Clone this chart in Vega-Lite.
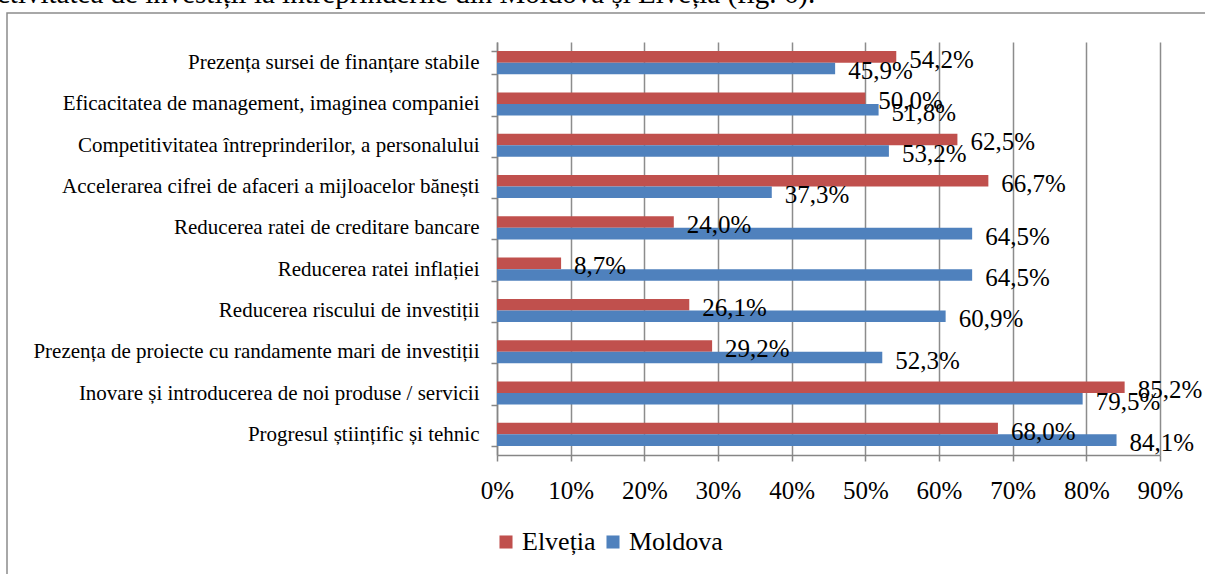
{
  "$schema": "https://vega.github.io/schema/vega-lite/v6.json",
  "width": 1200,
  "height": 570,
  "autosize": "none",
  "padding": {"left": 7, "top": 13, "right": 0, "bottom": 0},
  "background": "white",
  "title": {"text": "ctivitatea de investiții la întreprinderile din Moldova și Elveția (fig. 6).", "anchor": "start", "frame": "group", "offset": 0, "dy": 30, "baseline": "alphabetic", "fontSize": 29, "font": "Liberation Serif", "fontWeight": "normal", "color": "black", "dx": -10},
  "config": {
    "view": {"stroke": "#8c8c8c", "strokeWidth": 1.5},
    "locale": {"number": {"decimal": ",", "thousands": ".", "grouping": [3], "currency": ["", " €"]}}
  },
  "data": {"values": [
    {"cat": "Prezența sursei de finanțare stabile", "country": "Elveția", "v": 0.542},
    {"cat": "Prezența sursei de finanțare stabile", "country": "Moldova", "v": 0.459},
    {"cat": "Eficacitatea de management, imaginea companiei", "country": "Elveția", "v": 0.500},
    {"cat": "Eficacitatea de management, imaginea companiei", "country": "Moldova", "v": 0.518},
    {"cat": "Competitivitatea întreprinderilor, a personalului", "country": "Elveția", "v": 0.625},
    {"cat": "Competitivitatea întreprinderilor, a personalului", "country": "Moldova", "v": 0.532},
    {"cat": "Accelerarea cifrei de afaceri a mijloacelor bănești", "country": "Elveția", "v": 0.667},
    {"cat": "Accelerarea cifrei de afaceri a mijloacelor bănești", "country": "Moldova", "v": 0.373},
    {"cat": "Reducerea ratei de creditare bancare", "country": "Elveția", "v": 0.240},
    {"cat": "Reducerea ratei de creditare bancare", "country": "Moldova", "v": 0.645},
    {"cat": "Reducerea ratei inflației", "country": "Elveția", "v": 0.087},
    {"cat": "Reducerea ratei inflației", "country": "Moldova", "v": 0.645},
    {"cat": "Reducerea riscului de investiții", "country": "Elveția", "v": 0.261},
    {"cat": "Reducerea riscului de investiții", "country": "Moldova", "v": 0.609},
    {"cat": "Prezența de proiecte cu randamente mari de investiții", "country": "Elveția", "v": 0.292},
    {"cat": "Prezența de proiecte cu randamente mari de investiții", "country": "Moldova", "v": 0.523},
    {"cat": "Inovare și introducerea de noi produse / servicii", "country": "Elveția", "v": 0.852},
    {"cat": "Inovare și introducerea de noi produse / servicii", "country": "Moldova", "v": 0.795},
    {"cat": "Progresul științific și tehnic", "country": "Elveția", "v": 0.680},
    {"cat": "Progresul științific și tehnic", "country": "Moldova", "v": 0.841}
  ]},
  "encoding": {
    "y": {
      "field": "cat", "type": "nominal", "sort": null, "title": null,
      "scale": {"range": [29, 442], "paddingInner": 0.44, "paddingOuter": 0.22},
      "axis": {"offset": -490, "tickBand": "extent", "domainColor": "#868686", "domainWidth": 1.5, "tickColor": "#868686", "tickWidth": 1.5, "tickSize": 6, "labelFont": "Liberation Serif", "labelFontSize": 21, "labelColor": "black", "labelLimit": 700, "labelPadding": 12, "grid": false}
    },
    "yOffset": {"field": "country", "type": "nominal", "sort": ["Elveția", "Moldova"]}
  },
  "resolve": {"scale": {"x": "independent"}, "axis": {"x": "independent"}},
  "layer": [
    {
      "mark": {"type": "bar"},
      "encoding": {
        "x": {
          "field": "v", "type": "quantitative", "title": null,
          "scale": {"domain": [0, 0.9], "range": [490, 1153], "nice": false},
          "axis": {"orient": "top", "values": [0, 0.1, 0.2, 0.3, 0.4, 0.5, 0.6, 0.7, 0.8, 0.9], "grid": true, "gridColor": "#8c8c8c", "gridWidth": 1.5, "domain": false, "ticks": false, "labels": false, "zindex": 0}
        },
        "color": {"field": "country", "type": "nominal", "sort": ["Elveția", "Moldova"],
          "scale": {"domain": ["Elveția", "Moldova"], "range": ["#C0504D", "#4F81BD"]},
          "legend": {"title": null, "orient": "none", "legendX": 486, "legendY": 516, "direction": "horizontal", "symbolType": "square", "symbolSize": 170, "symbolStrokeWidth": 0, "labelFont": "Liberation Serif", "labelFontSize": 26, "labelColor": "black", "labelOffset": 3, "columnPadding": 4}
        }
      }
    },
    {
      "mark": {"type": "text", "align": "left", "baseline": "middle", "dx": 13, "dy": 3, "font": "Liberation Serif", "fontSize": 25, "color": "black"},
      "encoding": {
        "x": {
          "field": "v", "type": "quantitative", "title": null,
          "scale": {"domain": [0, 0.9], "range": [490, 1153], "nice": false},
          "axis": {"orient": "bottom", "offset": -128, "values": [0, 0.1, 0.2, 0.3, 0.4, 0.5, 0.6, 0.7, 0.8, 0.9], "format": ".0%", "grid": false, "domainColor": "#868686", "domainWidth": 1.5, "tickColor": "#868686", "tickWidth": 1.5, "tickSize": 6, "labelFont": "Liberation Serif", "labelFontSize": 25, "labelColor": "black", "labelPadding": 17, "labelFlush": false}
        },
        "text": {"field": "v", "type": "quantitative", "format": ".1%"}
      }
    }
  ]
}
